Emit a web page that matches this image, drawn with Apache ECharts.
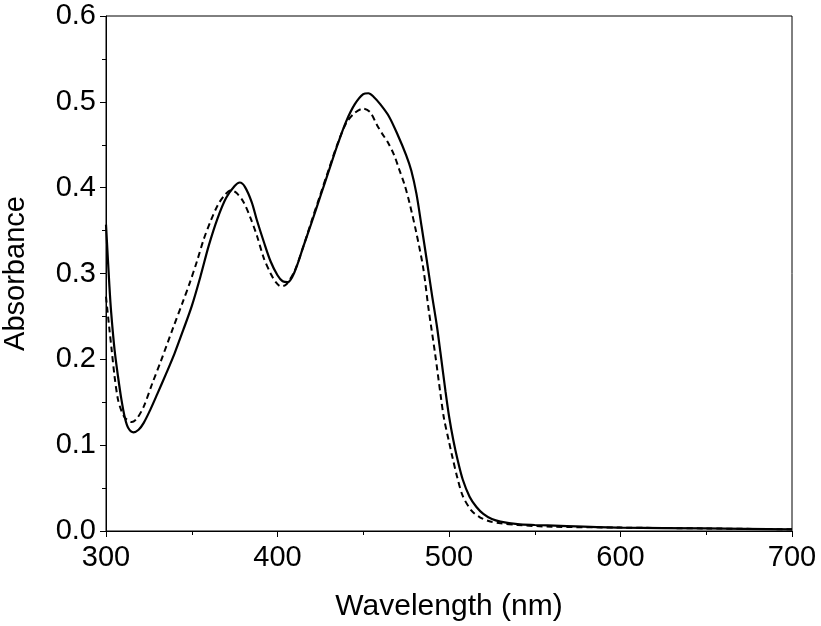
<!DOCTYPE html>
<html>
<head>
<meta charset="utf-8">
<script src="https://cdn.jsdelivr.net/npm/echarts@6/dist/echarts.min.js"></script>
<style>html,body{margin:0;padding:0;background:#fff;}#c{width:821px;height:626px;}</style>
</head>
<body>
<div id="c"></div>
<script>
const solidWl = [300,302,303,305,307,309,311,313,316,319,322,326,330,335,340,345,350,355,360,365,370,375,378,381,385,388,392,396,400,403,406,410,415,420,425,430,435,440,445,450,453,456,460,465,470,475,478,481,484,487,490,493,495,498,500,502.5,505,508,512,516,520,525,530,540,550,565,600,650,700];
const solidA = [0.357,0.285,0.255,0.211,0.180,0.153,0.132,0.120,0.115,0.118,0.126,0.142,0.160,0.183,0.207,0.234,0.262,0.296,0.333,0.364,0.388,0.402,0.406,0.401,0.383,0.362,0.337,0.314,0.298,0.291,0.290,0.302,0.331,0.360,0.390,0.420,0.450,0.477,0.497,0.509,0.510,0.506,0.497,0.483,0.462,0.438,0.420,0.393,0.355,0.316,0.276,0.238,0.208,0.162,0.134,0.106,0.083,0.060,0.040,0.028,0.020,0.014,0.011,0.008,0.007,0.006,0.004,0.003,0.002];
const dashWl = [300,302,303.3,305,307,309,311,315,318,322,327,332,339,345,349,353,357,361,365,369,373,376,380,384,388,392,396,399,402,405,410,415,420,425,430,435,440,445,450,454,458,461,464,468,471,474,477,481,485,488,492,495,497,500,502,505,508,513,518,524,530,540,560,600,650,700];
const dashA = [0.273,0.235,0.211,0.180,0.153,0.140,0.132,0.127,0.131,0.145,0.172,0.198,0.236,0.268,0.290,0.314,0.340,0.361,0.379,0.391,0.397,0.394,0.384,0.366,0.344,0.318,0.300,0.290,0.285,0.287,0.303,0.331,0.362,0.392,0.422,0.451,0.475,0.487,0.492,0.488,0.473,0.463,0.454,0.438,0.421,0.404,0.382,0.347,0.306,0.260,0.205,0.160,0.132,0.104,0.086,0.061,0.041,0.024,0.016,0.011,0.009,0.007,0.005,0.004,0.003,0.002];
const xTicks = {min:300, max:700, interval:100};
const yTicks = {min:0, max:0.6, interval:0.1};
const xTitle = 'Wavelength (nm)';
const yTitle = 'Absorbance';

const font = '"Liberation Sans", Arial, Helvetica, sans-serif';
const chart = echarts.init(document.getElementById('c'), null, {renderer:'canvas'});
function pairs(xs, ys){ return xs.map((x,i)=>[x, ys[i]]); }
chart.setOption({
  animation:false,
  backgroundColor:'#fff',
  grid:{left:106, right:29, top:16, bottom:95, show:true, borderColor:'#000', borderWidth:1, backgroundColor:'transparent', containLabel:false, outerBoundsMode:'none'},
  xAxis:{
    type:'value', min:xTicks.min, max:xTicks.max, interval:xTicks.interval,
    name:xTitle, nameLocation:'middle', nameGap:61,
    nameTextStyle:{color:'#000', fontFamily:font, fontSize:30},
    axisLine:{show:true, onZero:false, lineStyle:{color:'#000', width:1}},
    axisTick:{show:true, length:6, inside:false, lineStyle:{color:'#000'}},
    minorTick:{show:true, splitNumber:2, length:4, lineStyle:{color:'#000'}},
    axisLabel:{color:'#000', fontFamily:font, fontSize:29, margin:12},
    splitLine:{show:false}
  },
  yAxis:{
    type:'value', min:yTicks.min, max:yTicks.max, interval:yTicks.interval,
    name:yTitle, nameLocation:'middle', nameGap:76,
    nameTextStyle:{color:'#000', fontFamily:font, fontSize:29},
    axisLine:{show:true, lineStyle:{color:'#000', width:1}},
    axisTick:{show:true, length:6, lineStyle:{color:'#000'}},
    minorTick:{show:true, splitNumber:2, length:4, lineStyle:{color:'#000'}},
    axisLabel:{color:'#000', fontFamily:font, fontSize:29, margin:10, formatter:v=>v.toFixed(1)},
    splitLine:{show:false}
  },
  series:[
    {type:'line', data:pairs(solidWl, solidA), showSymbol:false, smooth:0.3,
     lineStyle:{color:'#000', width:2.2, type:'solid'}},
    {type:'line', data:pairs(dashWl, dashA), showSymbol:false, smooth:0.3,
     lineStyle:{color:'#000', width:2, type:[6,4]}}
  ]
});
</script>
</body>
</html>
